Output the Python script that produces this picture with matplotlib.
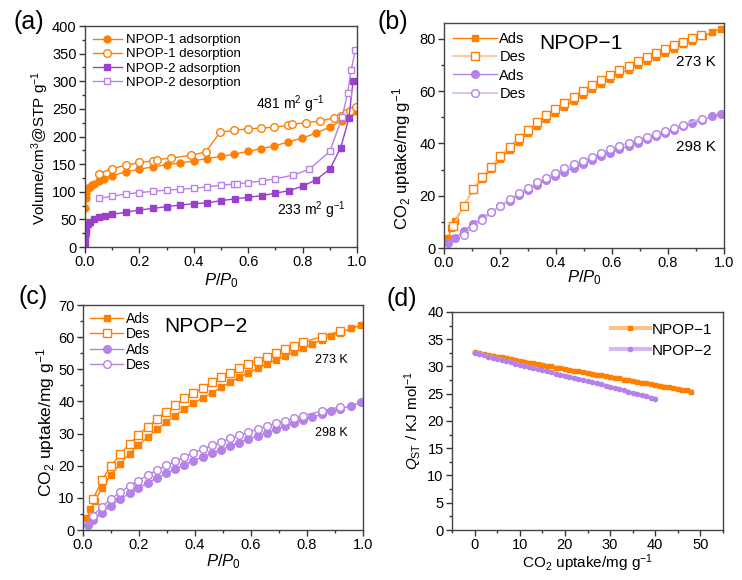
import numpy as np
import matplotlib
matplotlib.use('Agg')
import matplotlib.pyplot as plt
from matplotlib.ticker import MultipleLocator

plt.rcParams['font.family'] = ['Liberation Sans', 'DejaVu Sans']
plt.rcParams['mathtext.fontset'] = 'custom'
plt.rcParams['mathtext.rm'] = 'Liberation Sans'
plt.rcParams['mathtext.it'] = 'Liberation Sans:italic'
plt.rcParams['mathtext.bf'] = 'Liberation Sans:bold'

# ---------------- (a) N2 isotherms ----------------
p1_ads_p = [0.0003, 0.0008, 0.0015, 0.003, 0.005, 0.01, 0.017, 0.025, 0.032, 0.05, 0.071, 0.098,
            0.15, 0.2, 0.25, 0.3, 0.35, 0.4, 0.448, 0.5, 0.548, 0.598, 0.647, 0.696, 0.746, 0.797,
            0.848, 0.9, 0.945, 0.965, 0.99]
p1_ads_v = [20, 45, 70, 88, 98, 106, 109, 112, 114, 120, 124, 129, 136, 141, 145, 149, 152, 156,
            160, 164, 168, 173, 178, 183, 190, 197, 206, 217, 229, 236, 247]
p1_des_p = [0.052, 0.1, 0.15, 0.2, 0.25, 0.263, 0.315, 0.39, 0.443, 0.497, 0.548, 0.598, 0.647,
            0.696, 0.746, 0.76, 0.812, 0.864, 0.915, 0.94, 0.96, 0.975, 0.995]
p1_des_v = [133, 142, 148, 153, 156, 158, 161, 166, 172, 208, 211, 214, 215, 217, 220, 222, 225,
            228, 234, 237, 242, 246, 254]
p2_ads_p = [0.0003, 0.001, 0.002, 0.005, 0.01, 0.017, 0.032, 0.05, 0.075, 0.1, 0.15, 0.2, 0.25,
            0.3, 0.35, 0.4, 0.45, 0.5, 0.55, 0.6, 0.65, 0.7, 0.75, 0.8, 0.85, 0.9, 0.94, 0.97, 0.985]
p2_ads_v = [8, 20, 28, 35, 41, 45, 50, 54, 56, 59, 63, 67, 70, 73, 76, 78.5, 80, 84, 87, 90, 93,
            97.5, 102, 110, 122, 141, 180, 233, 300]
p2_des_p = [0.052, 0.1, 0.15, 0.2, 0.25, 0.3, 0.35, 0.4, 0.45, 0.5, 0.548, 0.56, 0.6, 0.65, 0.7,
            0.765, 0.825, 0.9, 0.945, 0.965, 0.978, 0.994]
p2_des_v = [88, 92, 96, 98.5, 101, 103, 104.5, 106.5, 109, 112, 114, 114.5, 116.5, 119.5, 123.5,
            130, 141, 173, 235, 278, 320, 357]

# ---------------- (b) NPOP-1 CO2 ----------------
b273_ads_p = [0.014, 0.026, 0.04, 0.07, 0.103, 0.137, 0.169, 0.2, 0.234, 0.267, 0.3, 0.333, 0.365,
              0.398, 0.43, 0.463, 0.495, 0.528, 0.56, 0.594, 0.626, 0.659, 0.691, 0.724, 0.757,
              0.79, 0.822, 0.855, 0.887, 0.926, 0.958, 0.99]
b273_ads = [3.8, 7.5, 10.5, 16.1, 22.0, 26.4, 30.1, 33.9, 37.6, 40.6, 43.9, 46.7, 49.3, 51.7, 54.0,
            56.3, 58.4, 60.6, 62.6, 64.6, 66.4, 68.2, 69.8, 71.5, 73.1, 74.5, 76.2, 77.8, 79.3,
            81.0, 82.5, 83.9]
b273_des_p = [0.033, 0.07, 0.103, 0.137, 0.169, 0.2, 0.234, 0.267, 0.3, 0.333, 0.365, 0.398, 0.43,
              0.463, 0.495, 0.528, 0.56, 0.594, 0.626, 0.659, 0.691, 0.724, 0.757, 0.79, 0.822,
              0.855, 0.887, 0.919]
b273_des = [8.3, 16.1, 22.5, 27.3, 31.1, 35.2, 38.7, 41.9, 45.1, 48.0, 50.8, 53.3, 55.6, 57.8,
            60.2, 62.2, 64.1, 66.0, 67.9, 69.7, 71.5, 73.0, 74.5, 76.1, 77.6, 78.7, 80.3, 81.5]
b298_ads_p = [0.014, 0.038, 0.071, 0.103, 0.137, 0.169, 0.2, 0.234, 0.267, 0.3, 0.333, 0.365,
              0.398, 0.43, 0.463, 0.495, 0.528, 0.56, 0.594, 0.626, 0.659, 0.691, 0.724, 0.757,
              0.79, 0.822, 0.855, 0.887, 0.92, 0.958, 0.99]
b298_ads = [1.9, 3.7, 6.5, 9.2, 11.6, 13.9, 16.0, 18.1, 20.2, 22.2, 24.1, 25.9, 27.6, 29.2, 30.7,
            32.1, 33.6, 35.0, 36.4, 37.7, 39.0, 40.3, 41.5, 42.7, 43.9, 45.3, 46.5, 47.6, 48.8,
            50.3, 51.4]
b298_des_p = [0.07, 0.103, 0.137, 0.169, 0.2, 0.234, 0.267, 0.3, 0.333, 0.365, 0.398, 0.43, 0.463,
              0.495, 0.528, 0.56, 0.594, 0.626, 0.659, 0.691, 0.724, 0.757, 0.79, 0.822, 0.855,
              0.92]
b298_des = [5.1, 7.9, 10.8, 13.7, 16.1, 18.6, 20.9, 23.1, 25.1, 26.9, 28.7, 30.4, 32.0, 33.4,
            34.9, 36.4, 37.8, 39.1, 40.2, 41.4, 42.6, 43.7, 44.8, 46.0, 47.2, 49.4]

# ---------------- (c) NPOP-2 CO2 ----------------
c273_ads_p = [0.014, 0.026, 0.042, 0.068, 0.1, 0.133, 0.166, 0.198, 0.232, 0.264, 0.297, 0.329,
              0.362, 0.394, 0.428, 0.46, 0.493, 0.525, 0.558, 0.59, 0.624, 0.656, 0.689, 0.721,
              0.754, 0.786, 0.819, 0.852, 0.885, 0.917, 0.958, 0.994]
c273_ads = [3.6, 6.5, 8.9, 13.1, 17.2, 20.6, 23.8, 26.5, 29.0, 31.3, 33.5, 35.6, 37.7, 39.4, 41.1,
            42.7, 44.4, 45.9, 47.5, 49.0, 50.3, 51.7, 52.9, 54.1, 55.4, 56.5, 57.9, 59.1, 60.4,
            61.4, 62.7, 63.7]
c273_des_p = [0.036, 0.068, 0.1, 0.133, 0.166, 0.198, 0.232, 0.264, 0.297, 0.329, 0.362, 0.394,
              0.428, 0.46, 0.493, 0.525, 0.558, 0.59, 0.624, 0.656, 0.689, 0.721, 0.754, 0.786,
              0.852, 0.917]
c273_des = [9.6, 15.6, 20.0, 23.5, 26.8, 29.6, 32.2, 34.6, 36.8, 38.8, 41.0, 42.5, 44.3, 45.9,
            47.5, 49.0, 50.3, 51.7, 52.7, 53.9, 55.2, 56.2, 57.3, 58.4, 60.2, 61.8]
c298_ads_p = [0.018, 0.036, 0.068, 0.1, 0.133, 0.166, 0.198, 0.232, 0.264, 0.297, 0.329, 0.362,
              0.394, 0.428, 0.46, 0.493, 0.525, 0.558, 0.59, 0.624, 0.656, 0.689, 0.721, 0.754,
              0.786, 0.819, 0.852, 0.885, 0.917, 0.958, 0.994]
c298_ads = [1.6, 3.0, 5.4, 7.6, 9.6, 11.4, 13.1, 14.7, 16.2, 17.6, 19.0, 20.3, 21.6, 22.8, 23.9,
            25.0, 26.1, 27.2, 28.3, 29.3, 30.3, 31.3, 32.3, 33.3, 34.2, 35.1, 36.0, 36.9, 37.7,
            38.7, 39.7]
c298_des_p = [0.036, 0.068, 0.1, 0.133, 0.166, 0.198, 0.232, 0.264, 0.297, 0.329, 0.362, 0.394,
              0.428, 0.46, 0.493, 0.525, 0.558, 0.59, 0.624, 0.656, 0.689, 0.721, 0.754, 0.786,
              0.852, 0.917]
c298_des = [4.5, 7.3, 9.7, 11.8, 13.7, 15.4, 17.1, 18.6, 20.1, 21.4, 22.8, 24.0, 25.2, 26.3, 27.4,
            28.5, 29.5, 30.5, 31.4, 32.3, 33.2, 34.0, 34.8, 35.6, 37.0, 38.3]

# ---------------- (d) Qst ----------------
d1_up = list(range(49))
d1_q = [32.6, 32.4, 32.3, 32.1, 32.0, 31.8, 31.7, 31.5, 31.4, 31.2, 31.0, 30.9, 30.7, 30.6, 30.4,
        30.3, 30.1, 30.0, 29.8, 29.7, 29.5, 29.4, 29.2, 29.1, 28.9, 28.8, 28.7, 28.5, 28.4, 28.2,
        28.1, 27.9, 27.8, 27.6, 27.5, 27.3, 27.2, 27.0, 26.9, 26.7, 26.6, 26.5, 26.3, 26.2, 26.0,
        25.9, 25.7, 25.6, 25.4]
d2_up = list(range(41))
d2_q = [32.5, 32.3, 32.1, 31.8, 31.6, 31.4, 31.2, 31.0, 30.8, 30.5, 30.3, 30.1, 29.9, 29.7, 29.5,
        29.3, 29.1, 28.9, 28.7, 28.5, 28.3, 28.1, 27.9, 27.7, 27.5, 27.3, 27.1, 26.9, 26.7, 26.5,
        26.3, 26.0, 25.8, 25.6, 25.4, 25.1, 24.9, 24.7, 24.5, 24.3, 24.1]

ORANGE = '#FF7F00'
ORANGE_L = '#FFC285'
PURPLE = '#9B40CC'
PURPLE_L = '#B882E8'
LILAC = '#B482E8'
LILAC_L = '#D4B8F2'

co2_label = 'CO$_2$ uptake/mg g$^{-1}$'
pp0_label = '$P$/$P_0$'


def style(ax):
    ax.tick_params(which='both', direction='out', top=False, right=False, labelsize=10.5,
                   color='#333333', width=1, pad=2)
    ax.tick_params(which='major', length=4)
    ax.tick_params(which='minor', length=2)
    for s in ax.spines.values():
        s.set_linewidth(1.0)
        s.set_color('#444444')


fig = plt.figure(figsize=(7.42, 5.80), dpi=100)
ax_a = fig.add_axes([0.1146, 0.5741, 0.3666, 0.3810])
ax_b = fig.add_axes([0.5984, 0.5724, 0.3774, 0.3879])
ax_c = fig.add_axes([0.1119, 0.0862, 0.3774, 0.3879])
ax_d = fig.add_axes([0.6092, 0.0862, 0.3652, 0.3759])

# (a)
ax_a.plot(p1_ads_p, p1_ads_v, '-o', color=ORANGE, ms=5, lw=1, label='NPOP-1 adsorption')
ax_a.plot(p1_des_p, p1_des_v, '-o', color=ORANGE, mfc='white', ms=5.5, lw=1, label='NPOP-1 desorption')
ax_a.plot(p2_ads_p, p2_ads_v, '-s', color=PURPLE, ms=4.5, lw=1, label='NPOP-2 adsorption')
ax_a.plot(p2_des_p, p2_des_v, '-s', color=PURPLE_L, mfc='white', ms=4.5, lw=1, label='NPOP-2 desorption')
ax_a.set_xlim(0, 1.0)
ax_a.set_ylim(0, 400)
ax_a.xaxis.set_major_locator(MultipleLocator(0.2))
ax_a.xaxis.set_minor_locator(MultipleLocator(0.1))
ax_a.yaxis.set_major_locator(MultipleLocator(50))
ax_a.yaxis.set_minor_locator(MultipleLocator(25))
ax_a.set_xlabel(pp0_label, fontsize=12)
ax_a.set_ylabel('Volume/cm$^3$@STP g$^{-1}$', fontsize=11)
ax_a.legend(loc='upper left', frameon=False, fontsize=9.5, handlelength=2.2,
            labelspacing=0.15, borderaxespad=0.2, handletextpad=0.3)
ax_a.text(0.63, 259, '481 m$^2$ g$^{-1}$', fontsize=10, va='center')
ax_a.text(0.705, 67, '233 m$^2$ g$^{-1}$', fontsize=10, va='center')

# (b)
ax_b.plot(b273_ads_p, b273_ads, '-s', color=ORANGE, ms=5, lw=1, label='Ads')
ax_b.plot(b273_des_p, b273_des, '-s', color=ORANGE_L, mec=ORANGE, mfc='white', ms=5.5, lw=1.2, label='Des')
ax_b.plot(b298_ads_p, b298_ads, '-o', color=LILAC, ms=5.5, lw=1, label='Ads')
ax_b.plot(b298_des_p, b298_des, '-o', color=LILAC_L, mec=LILAC, mfc='white', ms=5.5, lw=1.2, label='Des')
ax_b.set_xlim(0, 1.0)
ax_b.set_ylim(0, 86)
ax_b.xaxis.set_major_locator(MultipleLocator(0.2))
ax_b.xaxis.set_minor_locator(MultipleLocator(0.1))
ax_b.yaxis.set_major_locator(MultipleLocator(20))
ax_b.yaxis.set_minor_locator(MultipleLocator(10))
ax_b.set_xlabel(pp0_label, fontsize=12)
ax_b.set_ylabel(co2_label, fontsize=12)
ax_b.legend(loc='upper left', frameon=False, fontsize=10.5, handlelength=3.0,
            labelspacing=0.3, borderaxespad=0.2, handletextpad=0.2)
ax_b.text(0.49, 78, 'NPOP\u22121', fontsize=15, ha='center', va='center')
ax_b.text(0.97, 71, '273 K', fontsize=11, ha='right', va='center')
ax_b.text(0.97, 38.7, '298 K', fontsize=11, ha='right', va='center')

# (c)
ax_c.plot(c273_ads_p, c273_ads, '-s', color=ORANGE, ms=5, lw=1, label='Ads')
ax_c.plot(c273_des_p, c273_des, '-s', color=ORANGE, mfc='white', ms=5.5, lw=1, label='Des')
ax_c.plot(c298_ads_p, c298_ads, '-o', color=LILAC, ms=5.5, lw=1, label='Ads')
ax_c.plot(c298_des_p, c298_des, '-o', color=LILAC, mfc='white', ms=5.5, lw=1, label='Des')
ax_c.set_xlim(0, 1.0)
ax_c.set_ylim(0, 70)
ax_c.xaxis.set_major_locator(MultipleLocator(0.2))
ax_c.xaxis.set_minor_locator(MultipleLocator(0.1))
ax_c.yaxis.set_major_locator(MultipleLocator(10))
ax_c.yaxis.set_minor_locator(MultipleLocator(5))
ax_c.set_xlabel(pp0_label, fontsize=12)
ax_c.set_ylabel(co2_label, fontsize=12.5)
ax_c.legend(loc='upper left', frameon=False, fontsize=10, handlelength=2.4,
            labelspacing=0.1, borderaxespad=0.1, handletextpad=0.2)
ax_c.text(0.44, 63.3, 'NPOP\u22122', fontsize=15, ha='center', va='center')
ax_c.text(0.886, 52.9, '273 K', fontsize=9, ha='center', va='center')
ax_c.text(0.886, 30.3, '298 K', fontsize=9, ha='center', va='center')

# (d)
ax_d.plot(d1_up, d1_q, '-s', color=ORANGE_L, mec=ORANGE, mfc=ORANGE, ms=3, lw=3, label='NPOP\u22121')
ax_d.plot(d2_up, d2_q, '-o', color=LILAC_L, mec=LILAC, mfc=LILAC, ms=3, lw=3, label='NPOP\u22122')
ax_d.set_xlim(-5, 55)
ax_d.set_ylim(0, 40)
ax_d.xaxis.set_major_locator(MultipleLocator(10))
ax_d.xaxis.set_minor_locator(MultipleLocator(5))
ax_d.yaxis.set_major_locator(MultipleLocator(5))
ax_d.yaxis.set_minor_locator(MultipleLocator(2.5))
ax_d.set_xlabel(co2_label, fontsize=11)
ax_d.set_ylabel('$Q_{\\rm ST}$ / KJ mol$^{-1}$', fontsize=11)
ax_d.legend(loc='upper right', frameon=False, fontsize=11, handlelength=2.6,
            labelspacing=0.45, borderaxespad=0.3, handletextpad=0.1)

# (ax, xlabel y, ylabel x, ylabel y) in axes fractions
for ax, xl, yx, yy in [(ax_a, -0.15, -0.165, 0.45), (ax_b, -0.133, -0.15, 0.40),
                       (ax_c, -0.142, -0.135, 0.48), (ax_d, -0.151, -0.145, 0.50)]:
    style(ax)
    ax.xaxis.set_label_coords(0.5, xl)
    ax.xaxis.label.set_va('center')
    ax.yaxis.set_label_coords(yx, yy)
    ax.yaxis.label.set_va('center')

fig.text(29 / 742, 1 - 22 / 580, '(a)', fontsize=18, ha='center', va='center')
fig.text(393 / 742, 1 - 22 / 580, '(b)', fontsize=18, ha='center', va='center')
fig.text(33 / 742, 1 - 297 / 580, '(c)', fontsize=18, ha='center', va='center')
fig.text(402 / 742, 1 - 299 / 580, '(d)', fontsize=18, ha='center', va='center')

fig.savefig('out.png', dpi=100)
